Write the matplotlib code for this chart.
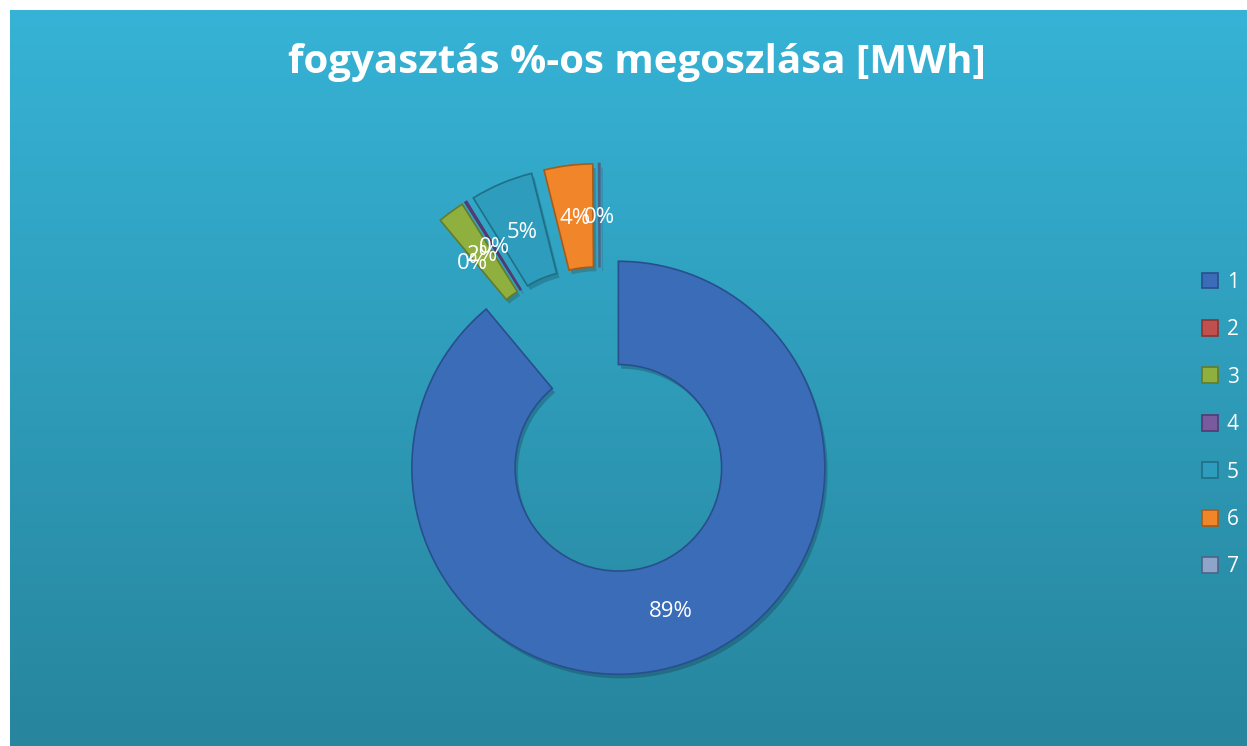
import numpy as np
import matplotlib
matplotlib.use('Agg')
import matplotlib.pyplot as plt
import matplotlib.patheffects as pe
from matplotlib.colors import LinearSegmentedColormap

# Data (shares of consumption, %)
categories = ['1', '2', '3', '4', '5', '6', '7']
values = [88.95, 0.0, 2.1, 0.15, 4.9, 3.8, 0.1]
slice_colors = ['#3a6cb8', '#c0504d', '#8fb03f', '#7a5a9e', '#2e9dbd', '#f0852a', '#8ea4c8']
edge_colors = ['#284f8c', '#8c3331', '#637c2a', '#523a70', '#1f6f86', '#a85a18', '#4f6386']

title = 'fogyasztás %-os megoszlása [MWh]'

W, H = 1247, 746
fig = plt.figure(figsize=(W / 100, H / 100), dpi=100)
fig.patch.set_facecolor('white')

# gradient background of the chart area
bg = fig.add_axes([10 / W, 0, (W - 10) / W, (H - 10) / H])
grad = LinearSegmentedColormap.from_list('bg', ['#36b3d6', '#27859d'])
bg.imshow(np.linspace(0, 1, 256).reshape(-1, 1), aspect='auto', cmap=grad,
          extent=[0, 1, 0, 1])
bg.set_axis_off()

# pie axes in pixel units
ax = fig.add_axes([0, 0, 1, 1])
ax.patch.set_alpha(0)
center = (600, H - 417)
radius = 206.5
expl = [54, 47, 47, 47, 47, 47, 47]

wedges, texts, autotexts = ax.pie(
    values, explode=expl, colors=slice_colors, startangle=90, counterclock=False,
    radius=radius, center=center, autopct='%1.0f%%', pctdistance=0.74,
    wedgeprops=dict(width=radius * 0.5, linewidth=1.2),
    textprops=dict(color='white', fontsize=16, family='Open Sans'))
for w, ec in zip(wedges, edge_colors):
    w.set_edgecolor(ec)
    w.set_path_effects([pe.SimplePatchShadow(offset=(2, -3), alpha=0.25), pe.Normal()])
# zero slice: no visible sliver
wedges[1].set_edgecolor('none')

ax.set_xlim(0, W)
ax.set_ylim(0, H)
ax.set_aspect('equal')
ax.set_axis_off()

fig.text(637 / W, 1 - 62 / H, title, ha='center', va='center', color='white',
         fontsize=29, fontweight='bold', family='Open Sans')

# legend
leg = ax.legend(wedges, categories, loc='upper left', bbox_to_anchor=(1183 / W, 1 - 253 / H),
                frameon=False, labelcolor='white', prop=dict(family='Open Sans', size=15),
                handlelength=0.8, handleheight=0.8, handletextpad=0.4, labelspacing=1.27)
for h, ec in zip(leg.legend_handles, edge_colors):
    h.set_edgecolor(ec)
    h.set_path_effects([])

fig.savefig('out.png', dpi=100)
